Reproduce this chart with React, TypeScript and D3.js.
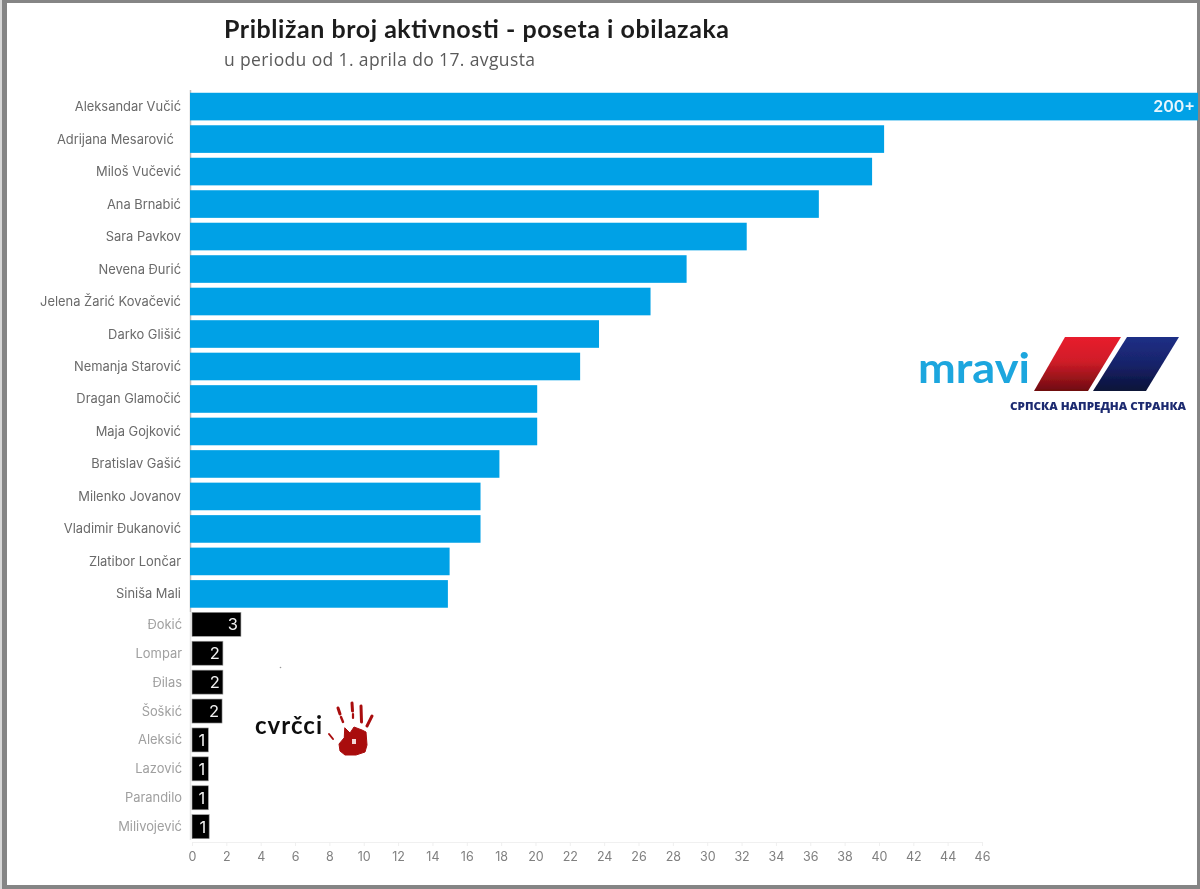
import * as React from "react";
import * as d3 from "d3";

const width = 1200;
const height = 889;

const blueNames = [
  "Aleksandar Vučić",
  "Adrijana Mesarović\u00a0\u00a0",
  "Miloš Vučević",
  "Ana Brnabić",
  "Sara Pavkov",
  "Nevena Đurić",
  "Jelena Žarić Kovačević",
  "Darko Glišić",
  "Nemanja Starović",
  "Dragan Glamočić",
  "Maja Gojković",
  "Bratislav Gašić",
  "Milenko Jovanov",
  "Vladimir Đukanović",
  "Zlatibor Lončar",
  "Siniša Mali",
];
// first value runs off the axis, the chart only says 200+
const blueValues = [200, 40.3, 39.6, 36.5, 32.3, 28.8, 26.7, 23.7, 22.6, 20.1, 20.1, 17.9, 16.8, 16.8, 15, 14.9];

const blackNames = ["Đokić", "Lompar", "Đilas", "Šoškić", "Aleksić", "Lazović", "Parandilo", "Milivojević"];
const blackValues = [2.85, 1.8, 1.8, 1.75, 0.95, 0.95, 0.95, 1];
const blackLabels = ["3", "2", "2", "2", "1", "1", "1", "1"];

const axisTicks = d3.range(0, 47, 2);

const labelFont = "Inter, Roboto, sans-serif";
const titleFont = "Lato, 'Open Sans', sans-serif";

export default function App() {
  const axisRef = React.useRef<SVGGElement>(null);

  const xScale = d3.scaleLinear().domain([0, 46]).range([192, 982]);
  const xEdge = 1198;

  const blueY = d3
    .scaleBand()
    .domain(blueNames)
    .range([90.5, 610])
    .paddingInner(0.15)
    .paddingOuter(0.07);

  const blackY = d3
    .scaleBand()
    .domain(blackNames)
    .range([610, 841])
    .paddingInner(0.17)
    .paddingOuter(0.08);

  React.useEffect(() => {
    if (!axisRef.current) return;
    const g = d3.select(axisRef.current);
    g.call(
      d3
        .axisBottom(xScale)
        .tickValues(axisTicks)
        .tickSize(4)
        .tickPadding(6)
        .tickFormat((d) => String(d))
    );
    g.select(".domain").attr("stroke", "#f0f0f0");
    g.selectAll(".tick line").attr("stroke", "#efefef");
    g.selectAll(".tick text")
      .attr("fill", "#808080")
      .attr("font-size", 12.5)
      .attr("font-family", labelFont);
  }, []);

  return (
    <svg
      width={width}
      height={height}
      viewBox={`0 0 ${width} ${height}`}
      style={{ position: "absolute", left: 0, top: 0, display: "block", background: "#fff" }}
    >
      <defs>
        <filter id="soft" x="0" y="0" width="100%" height="100%">
          <feGaussianBlur stdDeviation="0.7" />
        </filter>
        <linearGradient id="redBar" x1="0" y1="0" x2="0" y2="1">
          <stop offset="0%" stopColor="#e81f2d" />
          <stop offset="45%" stopColor="#d01c28" />
          <stop offset="100%" stopColor="#6e0c10" />
        </linearGradient>
        <linearGradient id="blueBar" x1="0" y1="0" x2="0" y2="1">
          <stop offset="0%" stopColor="#1f2f86" />
          <stop offset="50%" stopColor="#17236a" />
          <stop offset="100%" stopColor="#0b1238" />
        </linearGradient>
      </defs>

      <g filter="url(#soft)">
        {/* frame */}
        <rect x={0} y={0} width={width} height={height} fill="#d8d8d8" />
        <rect x={2} y={0} width={width - 2} height={height} fill="#858585" />
        <rect x={7} y={3} width={1190} height={882} fill="#ffffff" />

        <text x={224} y={38} fontFamily={titleFont} fontWeight={700} fontSize={25} fill="#1c1c1c" textLength={505}>
          Približan broj aktivnosti - poseta i obilazaka
        </text>
        <text x={224} y={66} fontFamily="'Open Sans', sans-serif" fontSize={17.5} fill="#5a5a5a" textLength={311}>
          u periodu od 1. aprila do 17. avgusta
        </text>

        <line x1={190.5} x2={190.5} y1={90} y2={612} stroke="#bdbdbd" strokeWidth={1.5} />
        <line x1={190.5} x2={190.5} y1={612} y2={840} stroke="#e6e6e6" strokeWidth={1.5} />

        {blueNames.map((name, i) => {
          const y = blueY(name) as number;
          return (
            <g key={name}>
              <rect
                x={xScale(0) - 2}
                y={y}
                width={Math.min(xScale(blueValues[i]), xEdge) - xScale(0) + 2}
                height={blueY.bandwidth()}
                fill="#00a1e6"
              />
              <text
                x={181}
                y={y + blueY.bandwidth() / 2}
                dy="0.35em"
                textAnchor="end"
                fontFamily={labelFont}
                fontSize={12.9}
                fill="#6a6a6a"
              >
                {name}
              </text>
            </g>
          );
        })}
        <text
          x={1195}
          y={(blueY(blueNames[0]) as number) + blueY.bandwidth() / 2}
          dy="0.36em"
          textAnchor="end"
          fontFamily={labelFont}
          fontSize={16}
          fontWeight={600}
          fill="#e6f6fd"
        >
          200+
        </text>

        {blackNames.map((name, i) => {
          const y = blackY(name) as number;
          return (
            <g key={name}>
              <rect
                x={xScale(0)}
                y={y}
                width={xScale(blackValues[i]) - xScale(0)}
                height={blackY.bandwidth()}
                fill="#050505"
                stroke="#9a9a9a"
                strokeWidth={0.6}
              />
              <text
                x={xScale(blackValues[i]) - 3}
                y={y + blackY.bandwidth() / 2}
                dy="0.37em"
                textAnchor="end"
                fontFamily={labelFont}
                fontSize={16.5}
                fill="#f2f2f2"
              >
                {blackLabels[i]}
              </text>
              <text
                x={182}
                y={y + blackY.bandwidth() / 2}
                dy="0.35em"
                textAnchor="end"
                fontFamily={labelFont}
                fontSize={12.9}
                fill="#a0a0a0"
              >
                {name}
              </text>
            </g>
          );
        })}

        <g ref={axisRef} transform="translate(0,842)" />

        {/* mravi logo */}
        <text
          x={918}
          y={383}
          fontFamily={titleFont}
          fontWeight={700}
          fontSize={42}
          fill="#1fa6de"
          textLength={112}
          lengthAdjust="spacingAndGlyphs"
        >
          mravi
        </text>
        <polygon points="1065,337 1121,337 1088,391 1034,391" fill="url(#redBar)" />
        <polygon points="1127,337 1179,337 1146,391 1093,391" fill="url(#blueBar)" />
        <text
          x={1010}
          y={410}
          fontFamily="'Open Sans', sans-serif"
          fontWeight={800}
          fontSize={11}
          fill="#1d2a70"
          textLength={176}
          lengthAdjust="spacingAndGlyphs"
        >
          СРПСКА НАПРЕДНА СТРАНКА
        </text>

        {/* cvrcci + hand */}
        <text x={255} y={734} fontFamily={titleFont} fontWeight={700} fontSize={24} fill="#111111" textLength={67}>
          cvrčci
        </text>
        <g fill="#a90e10" stroke="#a90e10" strokeLinecap="round">
          <path d="M345,728 L350,733 L354,727 L362,730 L366,732 L367,745 L365,752 L356,755 L345,755 L340,751 L339,744 L344,738 Z" strokeWidth={1} />
          <line x1={338} y1={708} x2={340} y2={714} strokeWidth={3} />
          <line x1={341} y1={717} x2={343} y2={722} strokeWidth={2.4} />
          <line x1={352} y1={703} x2={352.5} y2={711} strokeWidth={3} />
          <line x1={353} y1={714} x2={353} y2={718} strokeWidth={2.2} />
          <line x1={361} y1={706} x2={361.5} y2={722} strokeWidth={3} />
          <line x1={372} y1={716} x2={367} y2={726} strokeWidth={3} />
          <line x1={329} y1={734} x2={333} y2={739} strokeWidth={2} />
        </g>
        <rect x={352} y={739} width={4} height={5} fill="#f3d9d9" />
        <circle cx={280.5} cy={667.5} r={0.8} fill="#999999" />
      </g>
    </svg>
  );
}
